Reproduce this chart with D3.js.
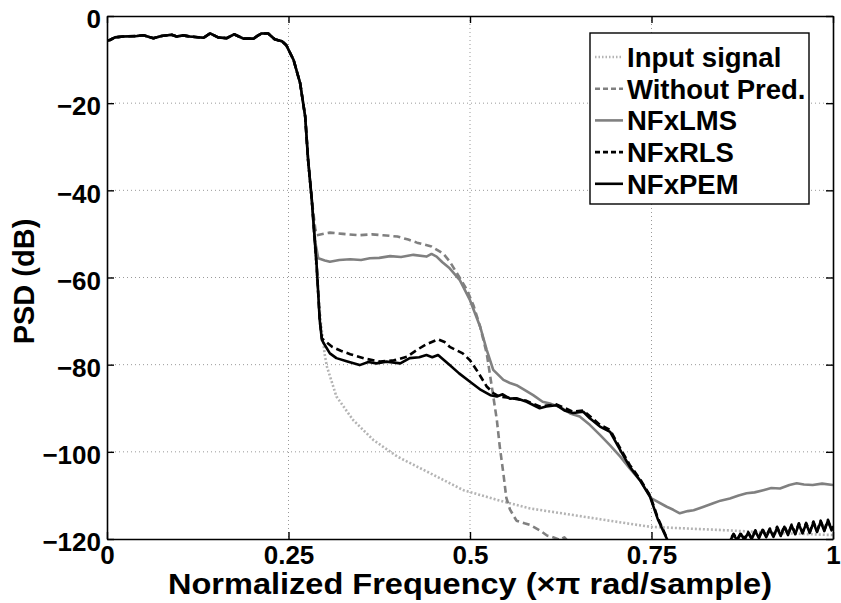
<!DOCTYPE html>
<html>
<head>
<meta charset="utf-8">
<script src="https://cdn.jsdelivr.net/npm/d3@7"></script>
<style>
  body { margin: 0; background: #fff; }
  text { font-family: "Liberation Sans", Arial, Helvetica, sans-serif; font-weight: bold; }
</style>
</head>
<body>
<div id="chart"></div>
<script>
// ticks
var xTicks = [0, 0.25, 0.5, 0.75, 1];
var xTickLabels = ["0", "0.25", "0.5", "0.75", "1"];
var yTicks = [0, -20, -40, -60, -80, -100, -120];
var yTickLabels = ["0", "\u221220", "\u221240", "\u221260", "\u221280", "\u2212100", "\u2212120"];

// common passband + first part of the transition band, [freq, dB]
var passband = [[0.000,-5.6],[0.004,-5.5],[0.011,-4.9],[0.022,-4.7],[0.041,-4.6],[0.050,-4.4],[0.064,-5.1],
  [0.075,-4.6],[0.089,-4.3],[0.096,-4.7],[0.105,-4.45],[0.114,-4.7],[0.133,-5.0],[0.142,-4.0],[0.153,-4.9],
  [0.165,-5.1],[0.175,-4.2],[0.188,-5.2],[0.202,-5.2],[0.206,-4.7],[0.213,-4.0],[0.222,-4.0],[0.231,-5.35],
  [0.241,-5.8],[0.247,-6.7],[0.257,-10.1],[0.266,-15.4],[0.273,-23.1],[0.277,-33],[0.282,-42]];

// rest of each curve
var inputTail = [[0.286,-52],[0.290,-62],[0.295,-71],[0.300,-77.8],[0.303,-80.5],[0.316,-87.3],[0.339,-92.7],
  [0.367,-97.3],[0.400,-101.1],[0.445,-104.9],[0.491,-108.8],[0.537,-111],[0.583,-113],[0.642,-114.5],
  [0.700,-116],[0.748,-117.2],[0.800,-117.6],[0.854,-118],[0.920,-118.6],[1.000,-119.1]];

var noPredTail = [[0.287,-49],[0.289,-50.3],[0.300,-49.9],[0.307,-49.7],[0.325,-50],[0.348,-50.3],[0.365,-50.1],
  [0.380,-50.3],[0.400,-50.6],[0.415,-51.3],[0.427,-52],[0.447,-52.9],[0.463,-54.5],[0.472,-56.3],[0.482,-59],
  [0.496,-62.9],[0.505,-66.5],[0.514,-71.3],[0.523,-77.4],[0.530,-85],[0.537,-92.7],[0.541,-98.8],[0.546,-105],
  [0.550,-110.5],[0.555,-113.2],[0.564,-115.8],[0.575,-116.4],[0.583,-116.8],[0.596,-118],[0.606,-119.2],
  [0.613,-119.5],[0.624,-120.2],[0.630,-119.6],[0.640,-121.5],[0.660,-124]];

var lmsTail = [[0.287,-52],[0.291,-55.6],[0.300,-56.1],[0.307,-56.4],[0.320,-56],[0.335,-55.8],[0.350,-56],
  [0.362,-55.6],[0.375,-55.5],[0.390,-55.1],[0.405,-55.3],[0.422,-54.8],[0.440,-55.2],[0.447,-54.6],[0.454,-55.2],
  [0.462,-56.5],[0.472,-57.9],[0.486,-60.6],[0.500,-65.2],[0.514,-71.3],[0.523,-76.6],[0.532,-81.2],[0.546,-83.5],
  [0.555,-84.2],[0.564,-84.7],[0.575,-85.8],[0.587,-87],[0.600,-88.5],[0.610,-88.9],[0.625,-89.8],[0.638,-91.2],
  [0.651,-91.9],[0.665,-93.8],[0.679,-96.1],[0.693,-98.5],[0.707,-101.1],[0.720,-103.8],[0.734,-106.5],
  [0.750,-110.7],[0.771,-112.6],[0.780,-113.3],[0.789,-114.1],[0.800,-113.6],[0.808,-113.4],[0.820,-112.7],
  [0.835,-111.8],[0.845,-111.2],[0.858,-110.7],[0.870,-110],[0.881,-109.5],[0.892,-109.3],[0.904,-108.8],
  [0.915,-108.3],[0.927,-108.4],[0.940,-107.6],[0.950,-107.2],[0.960,-107.5],[0.972,-107.6],[0.985,-107.3],
  [1.000,-107.6]];

var rlsTail = [[0.289,-57.8],[0.293,-69.8],[0.296,-74],[0.310,-75.9],[0.322,-76.8],[0.335,-77.6],[0.355,-78.6],
  [0.376,-79.3],[0.395,-79],[0.413,-78.2],[0.428,-76.5],[0.440,-75.3],[0.456,-74.2],[0.465,-74.8],[0.472,-75.9],
  [0.490,-77.4],[0.500,-79],[0.509,-81.2],[0.523,-85],[0.532,-86.5],[0.540,-87.3],[0.555,-87.6],[0.578,-88.3],
  [0.596,-89.6],[0.619,-89.1],[0.642,-90.8],[0.656,-90.5],[0.679,-93.8],[0.693,-95],[0.707,-99.2],[0.720,-103],
  [0.734,-106.2],[0.748,-110],[0.759,-115.3],[0.771,-119.7],[0.780,-123],[0.800,-128],[0.830,-126],[0.850,-122],
  [0.858,-120.3],[0.863,-118.8],[0.868,-120.1],[0.873,-118.6],[0.878,-120],[0.883,-118.4],[0.888,-119.8],
  [0.893,-118],[0.898,-119.6],[0.903,-117.7],[0.908,-119.4],[0.913,-117.6],[0.918,-119.3],[0.923,-117.2],
  [0.928,-119.1],[0.933,-117],[0.938,-118.9],[0.943,-116.7],[0.948,-118.7],[0.953,-116.4],[0.958,-118.5],
  [0.963,-116.3],[0.968,-118.4],[0.973,-116],[0.978,-118.2],[0.983,-115.8],[0.988,-118],[0.993,-115.6],
  [0.998,-117.8],[1.000,-117]];

var pemTail = [[0.289,-57.8],[0.293,-69.8],[0.296,-74.3],[0.300,-75.5],[0.307,-77.4],[0.316,-78.5],[0.330,-79.2],
  [0.348,-80.1],[0.360,-79.4],[0.371,-79.7],[0.385,-79.3],[0.404,-79.7],[0.417,-78.5],[0.430,-78.3],[0.440,-77.8],
  [0.448,-78.3],[0.456,-77.8],[0.472,-80.1],[0.485,-82],[0.500,-83.9],[0.515,-85.8],[0.528,-87],[0.537,-87.3],
  [0.545,-86.8],[0.555,-87.8],[0.564,-87.7],[0.578,-88.5],[0.596,-90],[0.605,-89.6],[0.619,-89.3],[0.630,-90.5],
  [0.642,-91.1],[0.656,-90.8],[0.665,-92.3],[0.679,-94.2],[0.693,-95.4],[0.707,-99.6],[0.720,-103.4],
  [0.734,-106.5],[0.748,-110.3],[0.759,-115.6],[0.771,-119.9],[0.780,-123],[0.800,-128],[0.830,-126],[0.850,-122],
  [0.858,-120.5],[0.863,-119],[0.868,-120.3],[0.873,-118.8],[0.878,-120.2],[0.883,-118.6],[0.888,-120],
  [0.893,-118.2],[0.898,-119.8],[0.903,-117.9],[0.908,-119.6],[0.913,-117.8],[0.918,-119.5],[0.923,-117.4],
  [0.928,-119.3],[0.933,-117.2],[0.938,-119.1],[0.943,-116.9],[0.948,-118.9],[0.953,-116.6],[0.958,-118.7],
  [0.963,-116.5],[0.968,-118.6],[0.973,-116.2],[0.978,-118.4],[0.983,-116],[0.988,-118.2],[0.993,-115.8],
  [0.998,-118],[1.000,-117.2]];

var seriesNames = ["Input signal", "Without Pred.", "NFxLMS", "NFxRLS", "NFxPEM"];
var seriesTails = [inputTail, noPredTail, lmsTail, rlsTail, pemTail];

function psdChart(){
  var margin = {top: 16, right: 8, bottom: 64, left: 107};
  var W = 841, H = 603;
  var width = W - margin.left - margin.right, height = H - margin.top - margin.bottom;

  var root = d3.select("#chart").append("svg")
      .attr("width", W).attr("height", H);
  var svg = root.append("g")
      .attr("transform", "translate(" + margin.left + "," + margin.top + ")");

  var x = d3.scaleLinear().domain([0, 1]).range([0, width]);
  var y = d3.scaleLinear().domain([-120, 0]).range([height, 0]);

  // grid
  svg.append("g").selectAll("line")
    .data(xTicks.slice(1, -1))
    .enter().append("line")
    .attr("x1", d => x(d)).attr("x2", d => x(d))
    .attr("y1", 0).attr("y2", height)
    .attr("stroke", "#999").attr("stroke-width", 1).attr("stroke-dasharray", "1,3");
  svg.append("g").selectAll("line")
    .data(yTicks.slice(1, -1))
    .enter().append("line")
    .attr("y1", d => y(d)).attr("y2", d => y(d))
    .attr("x1", 0).attr("x2", width)
    .attr("stroke", "#999").attr("stroke-width", 1).attr("stroke-dasharray", "1,3");

  // clip
  root.append("defs").append("clipPath").attr("id", "plotclip")
    .append("rect").attr("x", 0).attr("y", 0).attr("width", width).attr("height", height);

  var styles = [
    {color: "#b4b4b4", width: 2.6, dash: "2,2"},
    {color: "#808080", width: 2.6, dash: "7,4"},
    {color: "#808080", width: 2.6, dash: null},
    {color: "#000", width: 2.6, dash: "7,4"},
    {color: "#000", width: 2.6, dash: null}
  ];

  var line = d3.line()
    .x(d => x(d[0]))
    .y(d => y(d[1]));

  var lines = svg.append("g").attr("clip-path", "url(#plotclip)");
  seriesTails.forEach(function(tail, i){
    lines.append("path")
      .datum(passband.concat(tail))
      .attr("fill", "none")
      .attr("stroke", styles[i].color)
      .attr("stroke-width", styles[i].width)
      .attr("stroke-dasharray", styles[i].dash)
      .attr("stroke-linejoin", "round")
      .attr("d", line);
  });

  // axes
  var axB = svg.append("g").attr("transform", "translate(0," + height + ")")
    .call(d3.axisBottom(x).tickValues(xTicks).tickFormat((d, i) => xTickLabels[i]).tickSizeInner(-7).tickSizeOuter(0).tickPadding(6));
  var axT = svg.append("g")
    .call(d3.axisTop(x).tickValues(xTicks).tickFormat("").tickSizeInner(-7).tickSizeOuter(0));
  var axL = svg.append("g")
    .call(d3.axisLeft(y).tickValues(yTicks).tickFormat((d, i) => yTickLabels[i]).tickSizeInner(-7).tickSizeOuter(0).tickPadding(6));
  var axR = svg.append("g").attr("transform", "translate(" + width + ",0)")
    .call(d3.axisRight(y).tickValues(yTicks).tickFormat("").tickSizeInner(-7).tickSizeOuter(0));
  [axB, axT, axL, axR].forEach(function(a){
    a.selectAll("path").attr("stroke", "#000").attr("stroke-width", 1.6);
    a.selectAll("line").attr("stroke", "#000").attr("stroke-width", 1.4);
    a.selectAll("text").attr("fill", "#000").attr("font-size", 26).attr("font-family", null);
  });
  axL.selectAll("text").attr("dy", "0.45em");
  axB.selectAll("text").attr("dy", "0.72em");

  // axis labels
  svg.append("text")
    .attr("x", width / 2).attr("y", height + 55)
    .attr("text-anchor", "middle").attr("font-size", 30)
    .attr("textLength", 604).attr("lengthAdjust", "spacingAndGlyphs")
    .text("Normalized Frequency (\u00d7\u03c0 rad/sample)");
  svg.append("text")
    .attr("transform", "rotate(-90)")
    .attr("x", -height / 2 - 4).attr("y", -73)
    .attr("text-anchor", "middle").attr("font-size", 29)
    .text("PSD (dB)");

  // legend
  var legend = root.append("g").attr("transform", "translate(590,33)");
  legend.append("rect")
    .attr("width", 219).attr("height", 171)
    .attr("fill", "#fff").attr("stroke", "#000").attr("stroke-width", 1.4);
  var rows = legend.selectAll("g.row")
    .data(seriesNames)
    .enter().append("g")
    .attr("class", "row")
    .attr("transform", (d, i) => "translate(0," + (24 + i * 31.7) + ")");
  rows.append("line")
    .attr("x1", 5).attr("x2", 33)
    .attr("stroke", (d, i) => styles[i].color)
    .attr("stroke-width", (d, i) => styles[i].width)
    .attr("stroke-dasharray", (d, i) => styles[i].dash ? (i === 0 ? "1.5,2" : "5,3") : null);
  rows.append("text")
    .attr("x", 37).attr("dy", "0.36em")
    .attr("font-size", 27.5)
    .text(d => d);
}

psdChart();
</script>
</body>
</html>
